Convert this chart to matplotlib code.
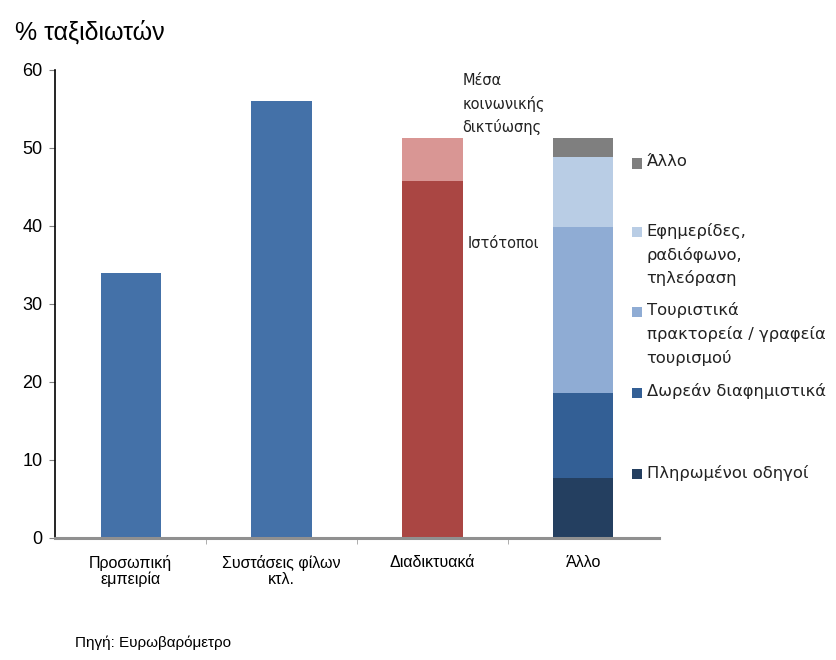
import matplotlib.pyplot as plt
from matplotlib.patches import Rectangle
import numpy as np

plt.rcParams['font.family'] = ['Liberation Sans', 'DejaVu Sans']

categories = ["Προσωπική\nεμπειρία", "Συστάσεις φίλων\nκτλ.", "Διαδικτυακά", "Άλλο"]
simple_values = [34, 56]

# Διαδικτυακά split
web_labels = ["Ιστότοποι", "Μέσα\nκοινωνικής\nδικτύωσης"]
web_values = [45.8, 5.5]
web_colors = ["#AA4643", "#D99694"]

# Άλλο split, bottom to top
other_labels = ["Πληρωμένοι οδηγοί", "Δωρεάν διαφημιστικά",
                "Τουριστικά\nπρακτορεία / γραφεία\nτουρισμού",
                "Εφημερίδες,\nραδιόφωνο,\nτηλεόραση", "Άλλο"]
other_values = [7.7, 10.9, 21.2, 9.1, 2.4]
other_colors = ["#243F60", "#335F95", "#8FACD4", "#B9CDE5", "#7F7F7F"]
# y of the first line of each label
other_label_y = [8.2, 18.6, 29.0, 39.2, 48.0]

blue = "#4471A8"
w = 0.4

fig = plt.figure(figsize=(8.37, 6.6), dpi=100)
ax = fig.add_axes([0.066, 0.185, 0.721, 0.709])

x = np.arange(len(categories))
ax.bar(x[:2], simple_values, width=w, color=blue)

bottom = 0
for v, c in zip(web_values, web_colors):
    ax.bar(x[2], v, width=w, bottom=bottom, color=c)
    bottom += v

bottom = 0
for v, c in zip(other_values, other_colors):
    ax.bar(x[3], v, width=w, bottom=bottom, color=c)
    bottom += v

ax.set_xlim(-0.5, 3.5)
ax.set_ylim(0, 60)
ax.set_yticks(range(0, 61, 10))
ax.tick_params(axis='y', labelsize=13, length=4, width=0.8, color="#808080", pad=5)

ax.set_xticks(x)
ax.set_xticklabels(categories, fontsize=11.5, linespacing=1.1)
ax.tick_params(axis='x', length=0, pad=12)
ax.set_xticks([0.5, 1.5, 2.5], minor=True)
ax.tick_params(axis='x', which='minor', length=4, color="#A0A0A0")

for s in ["top", "right"]:
    ax.spines[s].set_visible(False)
ax.spines["left"].set_color("black")
ax.spines["left"].set_linewidth(1.2)
ax.spines["bottom"].set_color("#909090")
ax.spines["bottom"].set_linewidth(2.2)

# annotations for the internet bar
ax.text(2.2, 51.6, web_labels[1], fontsize=10.5, family=['DejaVu Sans'],
        ha='left', va='bottom', linespacing=1.6, color="#222222")
ax.text(2.235, 37.8, web_labels[0], fontsize=10.5, family=['DejaVu Sans'],
        ha='left', va='center', color="#222222")

# labels for the "other" bar
sq_w, sq_h = 0.066, 1.3
for lab, yl, c in zip(other_labels, other_label_y, other_colors):
    ax.add_patch(Rectangle((3.32, yl - sq_h / 2), sq_w, sq_h, facecolor=c,
                           edgecolor='none', clip_on=False))
    ax.text(3.42, yl + 1.2, lab, fontsize=11.8, ha='left', va='top',
            family=['DejaVu Sans'], linespacing=1.6, clip_on=False, color="#222222")

fig.text(0.018, 0.933, "% ταξιδιωτών", fontsize=18, ha='left', va='bottom')
fig.text(0.09, 0.026, "Πηγή: Ευρωβαρόμετρο", fontsize=11, ha='left', va='center')

fig.savefig("out.png", dpi=100)
